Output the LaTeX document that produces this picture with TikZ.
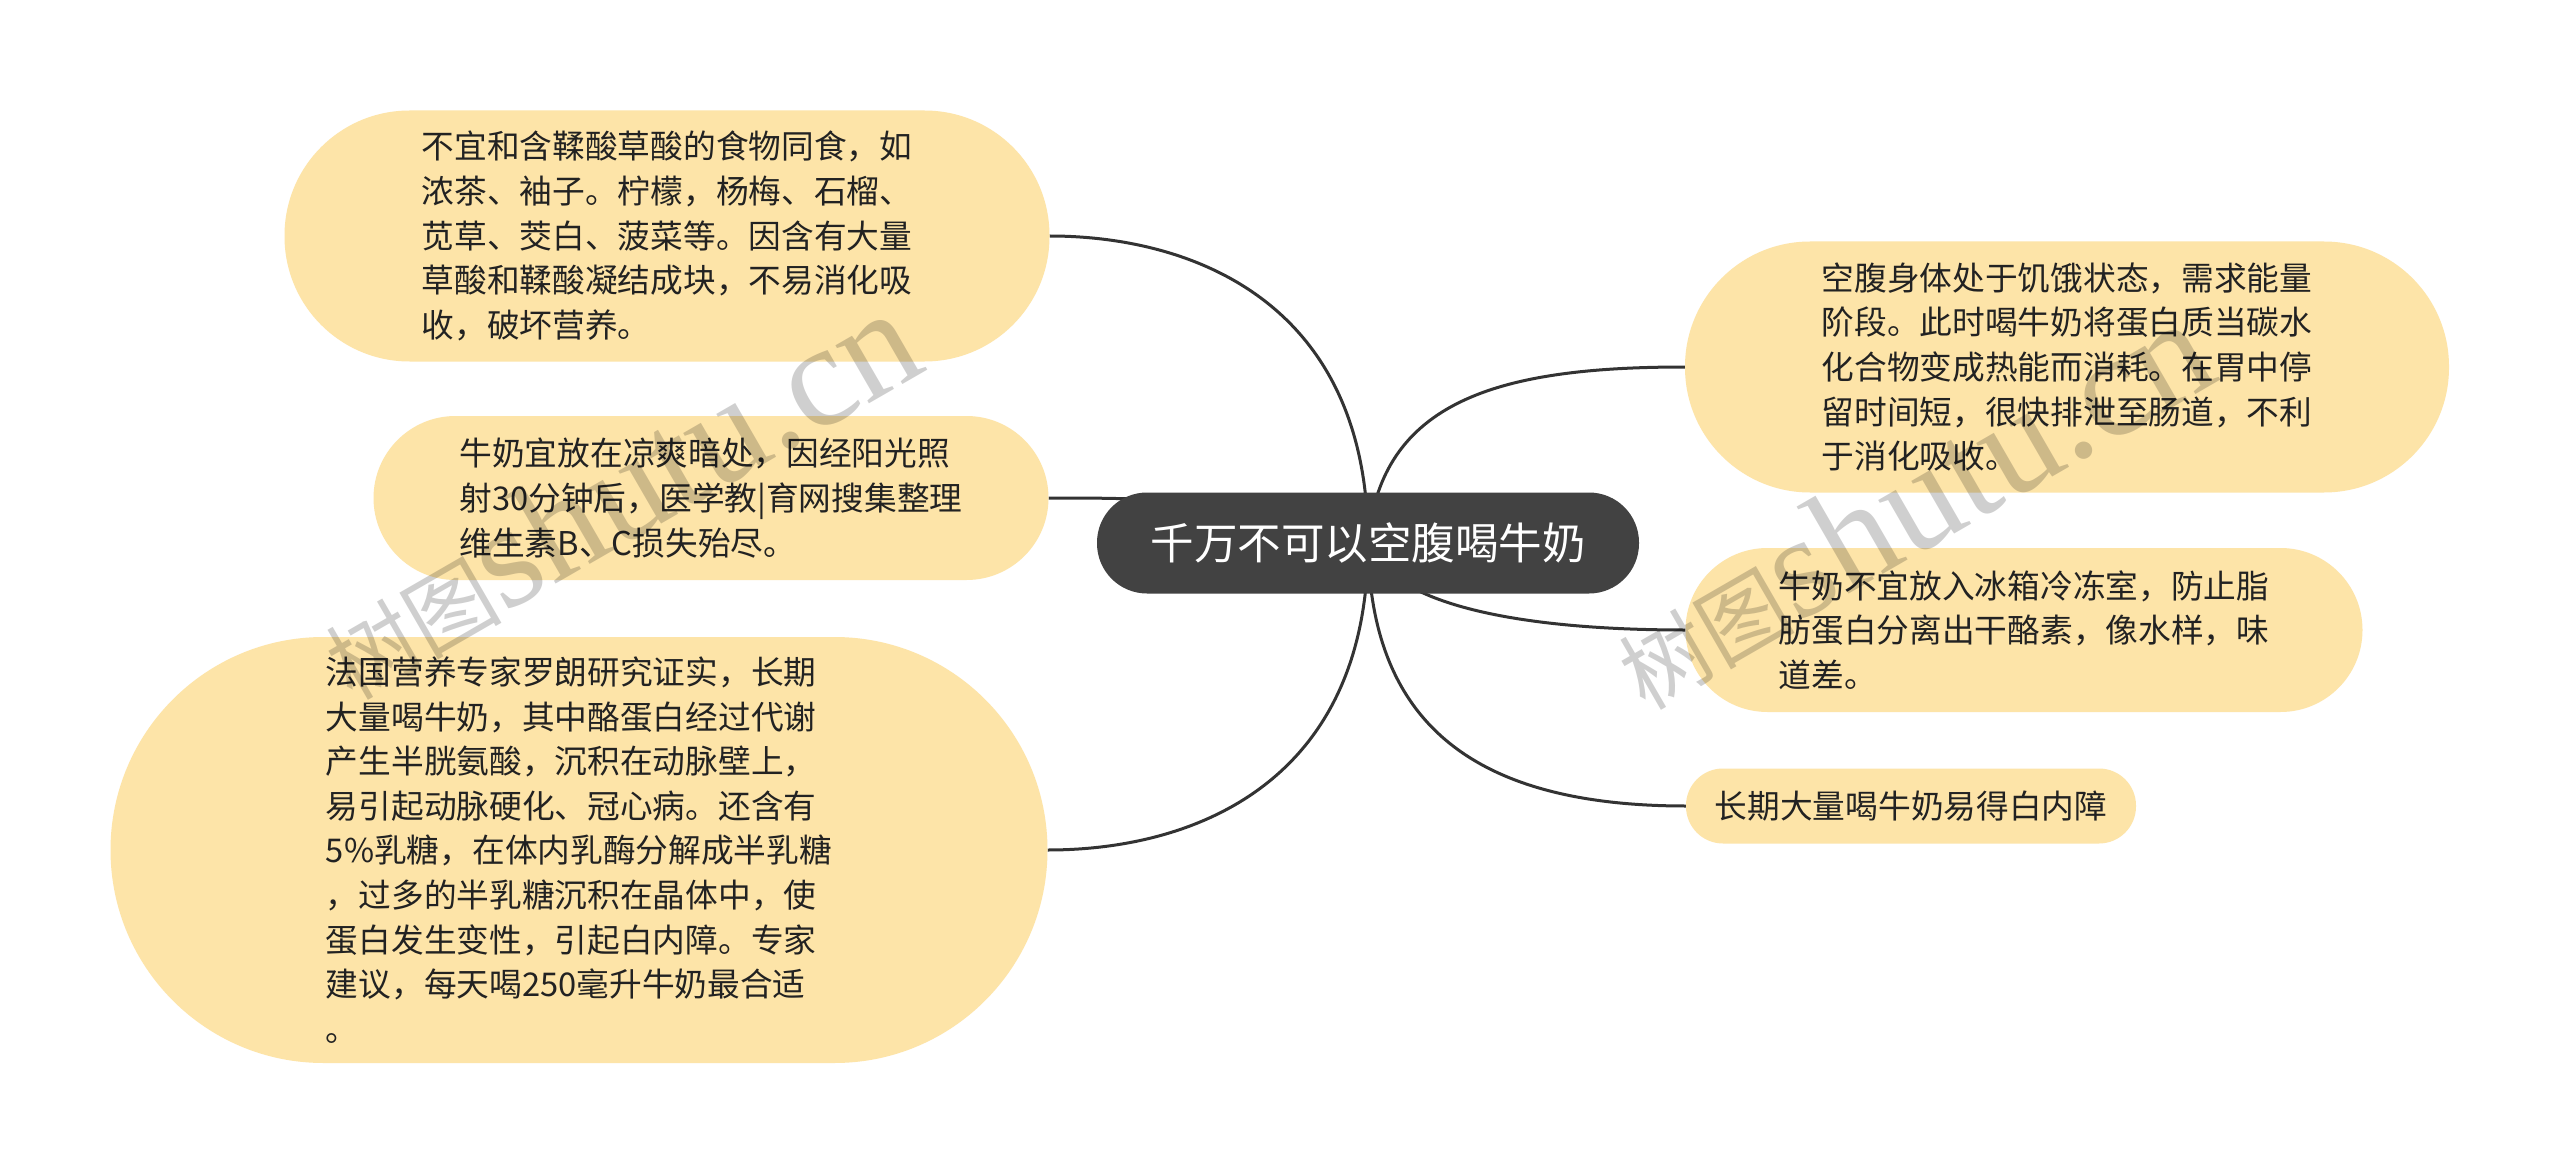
\documentclass[tikz,border=0pt]{standalone}
\usepackage{fontspec}
\setmainfont{Noto Sans CJK SC}
\newfontfamily\wmlatin{Liberation Serif}
\newfontfamily\wmcjk{Noto Sans CJK SC}
\usetikzlibrary{backgrounds}
\definecolor{boxfill}{RGB}{253,228,168}
\definecolor{rootfill}{RGB}{66,66,66}
\definecolor{txt}{RGB}{34,34,34}
\definecolor{linec}{RGB}{51,51,51}
\begin{document}
\begin{tikzpicture}[x=1pt,y=-1pt,
  topic/.style={rectangle, fill=boxfill, text=txt, align=left, inner sep=0pt,
    font=\fontsize{32.7pt}{44.6pt}\selectfont},
  root/.style={rectangle, fill=rootfill, text=white, inner sep=0pt,
    font=\fontsize{43.5pt}{50pt}\selectfont, minimum width=542pt,
    minimum height=101pt, rounded corners=50pt},
  conn/.style={draw=linec, line width=3pt},
  wm/.style={inner sep=0pt, text=black, text opacity=0.19}
]
\useasboundingbox (0,0) rectangle (2560,1174);

\node[root] (root) at (1368,543) {千万不可以空腹喝牛奶};

\node[topic, minimum width=765pt, minimum height=251pt, rounded corners=125pt] (t1) at (667,236)
{不宜和含鞣酸草酸的食物同食，如\\浓茶、袖子。柠檬，杨梅、石榴、\\苋草、茭白、菠菜等。因含有大量\\草酸和鞣酸凝结成块，不易消化吸\\收，破坏营养。};

\node[topic, minimum width=675pt, minimum height=164pt, rounded corners=82pt] (t2) at (711,498)
{牛奶宜放在凉爽暗处，因经阳光照\\射30分钟后，医学教|育网搜集整理\\维生素B、C损失殆尽。};

\node[topic, minimum width=937pt, minimum height=426pt, rounded corners=213pt] (t3) at (579,850)
{法国营养专家罗朗研究证实，长期\\大量喝牛奶，其中酪蛋白经过代谢\\产生半胱氨酸，沉积在动脉壁上，\\易引起动脉硬化、冠心病。还含有\\5\%乳糖，在体内乳酶分解成半乳糖\\，过多的半乳糖沉积在晶体中，使\\蛋白发生变性，引起白内障。专家\\建议，每天喝250毫升牛奶最合适\\。};

\node[topic, minimum width=764pt, minimum height=251pt, rounded corners=125pt] (t4) at (2067,367)
{空腹身体处于饥饿状态，需求能量\\阶段。此时喝牛奶将蛋白质当碳水\\化合物变成热能而消耗。在胃中停\\留时间短，很快排泄至肠道，不利\\于消化吸收。};

\node[topic, minimum width=677pt, minimum height=164pt, rounded corners=82pt] (t5) at (2024,630)
{牛奶不宜放入冰箱冷冻室，防止脂\\肪蛋白分离出干酪素，像水样，味\\道差。};

\node[topic, minimum width=450pt, minimum height=75pt, rounded corners=37pt] (t6) at (1911,806)
{长期大量喝牛奶易得白内障};

\begin{scope}[on background layer]
\fill[white] (0,0) rectangle (2560,1174);
\draw[conn] (root.center) .. controls +(0,-243) and +(140,0) .. (t1.east);
\draw[conn] (root.center) .. controls +(-118,-45) and +(100,0) .. (t2.east);
\draw[conn] (root.center) .. controls +(0,237) and +(150,0) .. (t3.east);
\draw[conn] (root.center) .. controls +(12,-143) and +(-185,0) .. (t4.west);
\draw[conn] (root.center) .. controls +(22,62) and +(-165,0) .. (t5.west);
\draw[conn] (root.center) .. controls +(2,177) and +(-216,0) .. (t6.west);
\end{scope}

\node[wm, rotate=30, anchor=base west] (wm1) at (352,702)
{\wmcjk\fontsize{88pt}{88pt}\selectfont 树图\wmlatin\fontsize{146pt}{146pt}\selectfont shutu.cn};
\node[wm, rotate=30, anchor=base west] (wm2) at (1645,712)
{\wmcjk\fontsize{88pt}{88pt}\selectfont 树图\wmlatin\fontsize{146pt}{146pt}\selectfont shutu.cn};
\end{tikzpicture}
\end{document}
